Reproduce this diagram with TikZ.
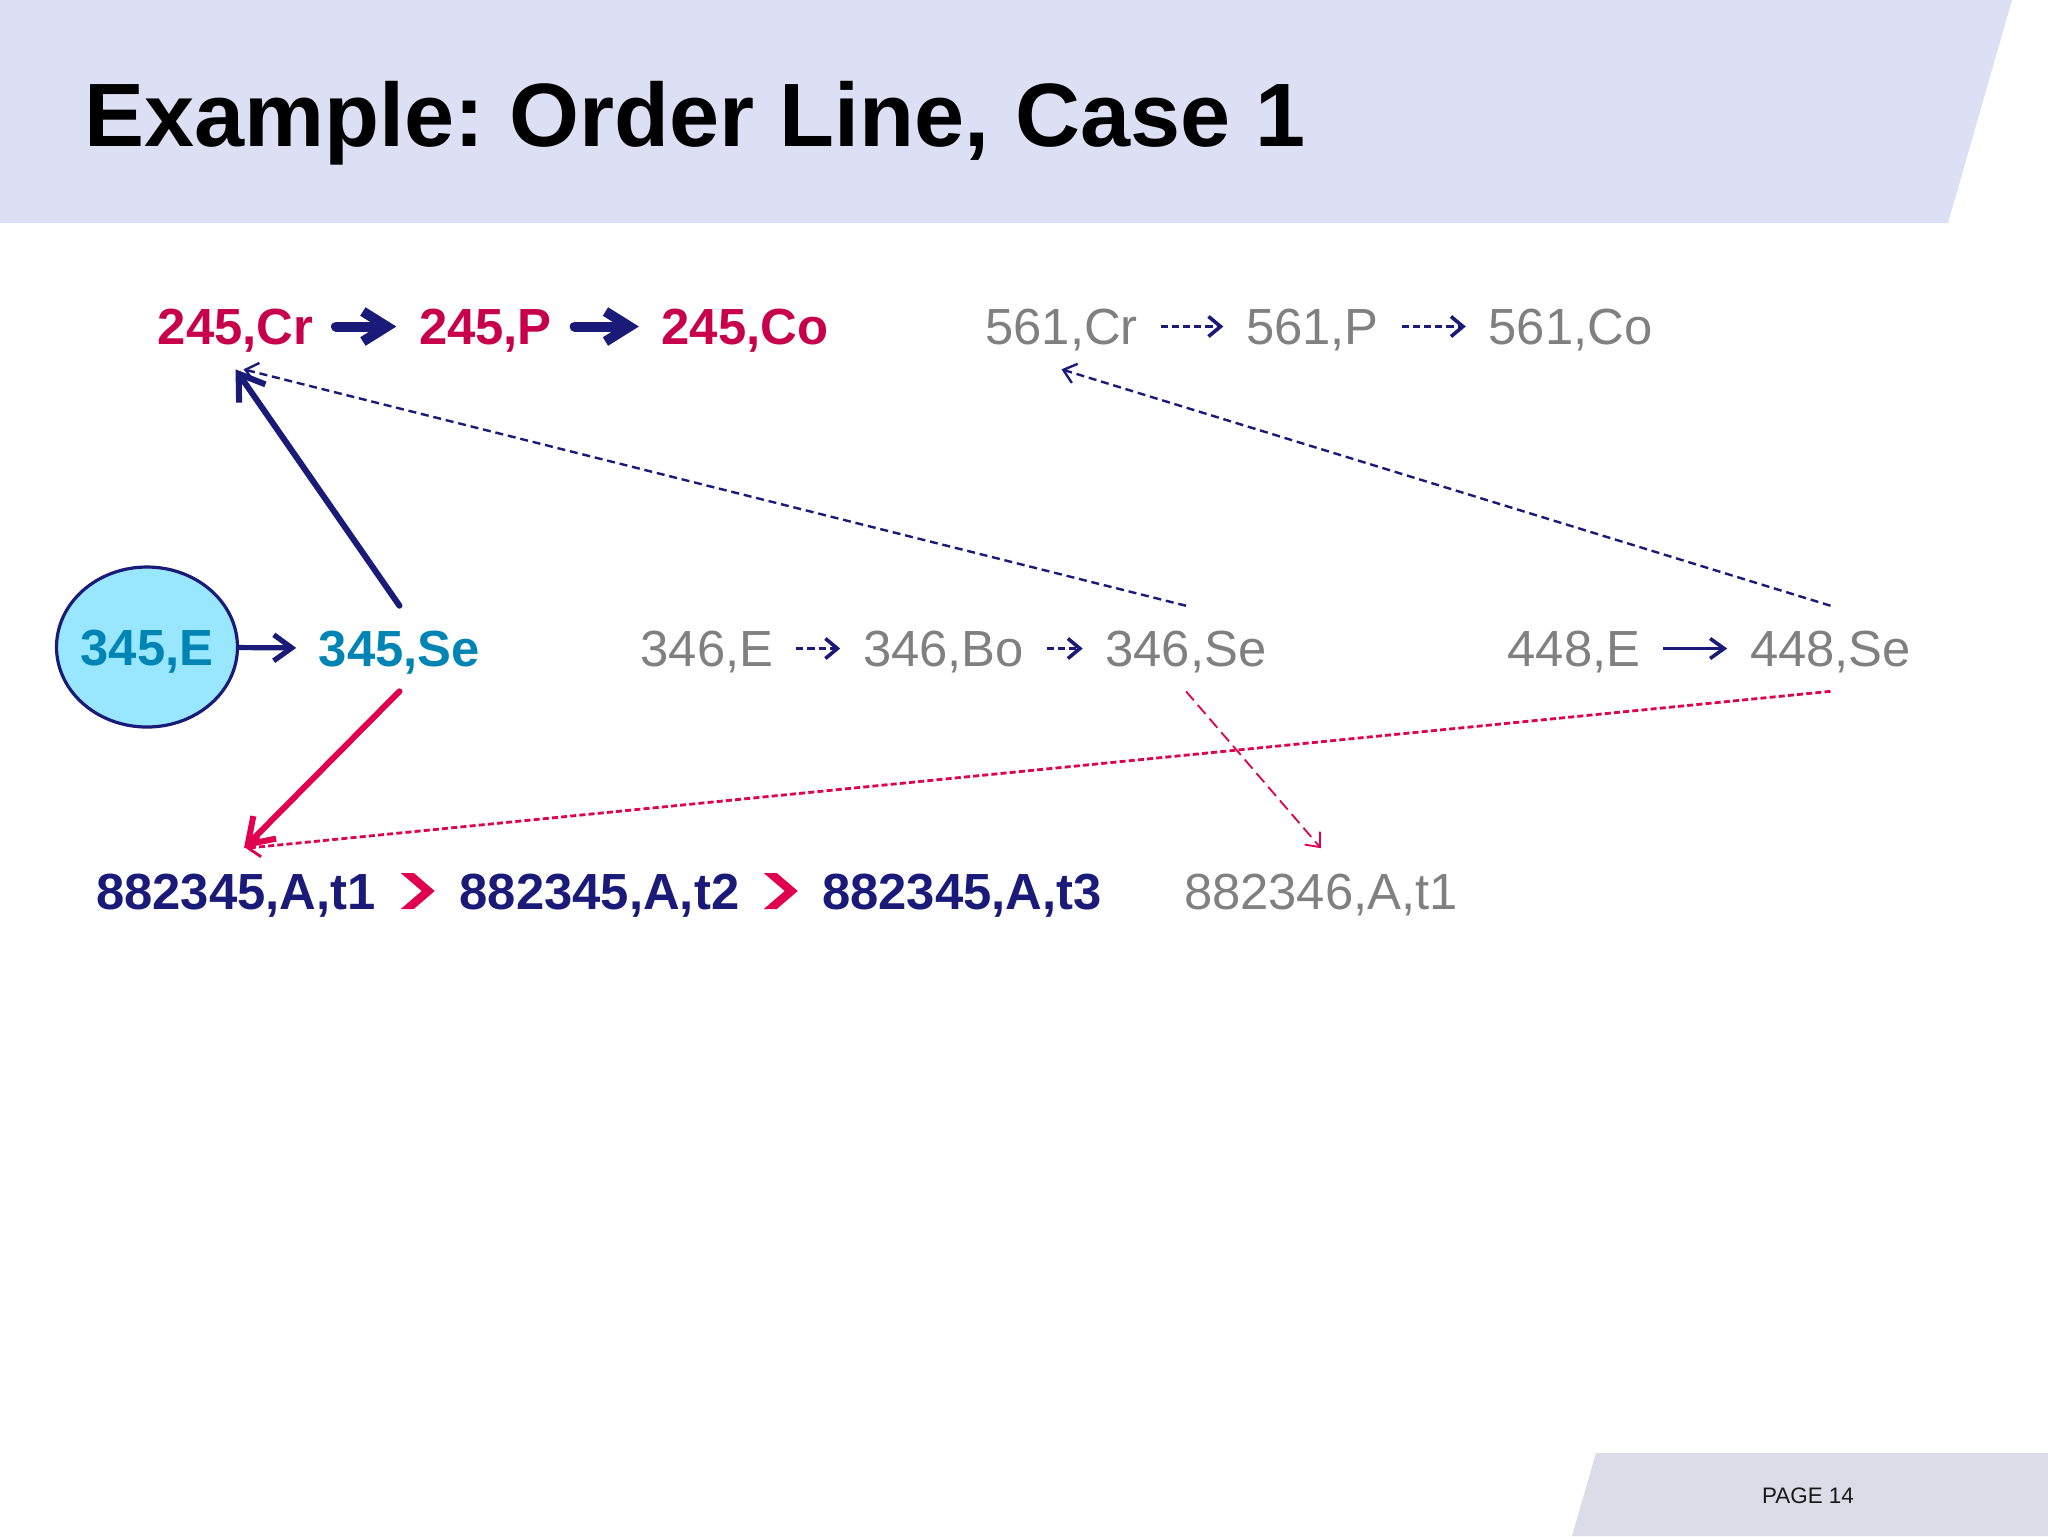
\documentclass[tikz,border=0pt]{standalone}
\usepackage{fontspec}
\setmainfont{Liberation Sans}
\frenchspacing
\usetikzlibrary{arrows.meta,shapes.geometric,decorations.markings}
\definecolor{crim}{RGB}{200,0,75}
\definecolor{navyb}{RGB}{26,26,120}
\definecolor{tealb}{RGB}{0,132,180}
\definecolor{grayt}{RGB}{128,128,128}
\definecolor{redc}{RGB}{224,0,78}
\definecolor{bandtop}{RGB}{221,224,244}
\definecolor{bandbot}{RGB}{220,220,232}
\definecolor{eggfill}{RGB}{153,230,255}

\begin{document}
\begin{tikzpicture}[x=0.25pt,y=-0.25pt]
\tikzstyle{lbl}=[font=\fontsize{12.7}{15}\selectfont, text height=9.1pt, text depth=0pt, minimum height=21pt, inner xsep=5.5pt, inner ysep=0pt]
\tikzstyle{hot}=[lbl, text=crim, font=\fontsize{12.7}{15}\selectfont\bfseries]
\tikzstyle{cool}=[lbl, text=tealb, font=\fontsize{12.7}{15}\selectfont\bfseries]
\tikzstyle{deep}=[lbl, text=navyb, font=\fontsize{12.7}{15}\selectfont\bfseries]
\tikzstyle{dim}=[lbl, text=grayt]
\tikzstyle{fat}=[navyb, line width=2.5pt, line cap=round, line join=round, -{Straight Barb[length=6pt,width=7.5pt]}]
\tikzstyle{mid}=[navyb, line width=1.3pt, -{Straight Barb[length=4.5pt,width=6.5pt]}]
\tikzstyle{slim}=[navyb, line width=0.9pt, -{Straight Barb[length=3.5pt,width=5pt]}]
\tikzstyle{dsh}=[navyb, line width=0.9pt, dash pattern=on 1.8pt off 1pt, -{Straight Barb[length=3pt,width=5pt]}]
\tikzstyle{longn}=[navyb, line width=1.5pt, line cap=round, -{Straight Barb[length=6pt,width=8pt]}]
\tikzstyle{longr}=[redc, line width=1.5pt, line cap=round, -{Straight Barb[length=6pt,width=8pt]}]
\tikzstyle{dshn}=[navyb, line width=0.6pt, dash pattern=on 2pt off 1.2pt, -{Straight Barb[length=3pt,width=5pt]}]
\tikzstyle{dshr}=[redc, line width=0.7pt, dash pattern=on 1.5pt off 0.8pt, -{Straight Barb[length=3pt,width=5pt]}]
\tikzstyle{dshr2}=[redc, line width=0.45pt, dash pattern=on 3pt off 1.5pt, -{Straight Barb[length=3pt,width=5pt]}]
\tikzstyle{chev}=[decoration={markings, mark=at position 0.5 with {\fill[redc] (-17,-18) -- (-4,-18) -- (17,0) -- (-4,18) -- (-17,18) -- (4,0) -- cycle;}}, postaction={decorate}]
\useasboundingbox (0,0) rectangle (2048,1536);
\fill[white] (0,0) rectangle (2048,1536);
\fill[bandtop] (0,0) -- (2012,0) -- (1948,223) -- (0,223) -- cycle;
\fill[bandbot] (1596,1453) -- (2048,1453) -- (2048,1536) -- (1572,1536) -- cycle;
\node[anchor=base west, inner sep=0pt, font=\fontsize{22.5}{27}\selectfont\bfseries] (ttl) at (84,146) {Example: Order Line, Case 1};
\node[inner sep=0pt, text=black!90, font=\fontsize{5.6}{7}\selectfont] (pg) at (1808,1496) {PAGE 14};
\node[hot] (cr245) at (235.5,326.5) {245,Cr};
\node[hot] (p245) at (485.5,326.5) {245,P};
\node[hot] (co245) at (745,326.5) {245,Co};
\node[dim] (cr561) at (1061.5,326.5) {561,Cr};
\node[dim] (p561) at (1312.5,326.5) {561,P};
\node[dim] (co561) at (1570.5,326.5) {561,Co};
\node[ellipse, draw=navyb, line width=0.8pt, fill=eggfill, minimum width=45pt, minimum height=40pt, inner xsep=-0.6pt, inner ysep=0pt, text height=9.1pt, text depth=0pt, text=tealb, font=\fontsize{12.7}{15}\selectfont\bfseries] (e345) at (147,647) {345,E};
\node[cool] (se345) at (399.5,648.5) {345,Se};
\node[dim] (e346) at (707,648.5) {346,E};
\node[dim] (bo346) at (943.5,648.5) {346,Bo};
\node[dim] (se346) at (1186,648.5) {346,Se};
\node[dim] (e448) at (1574,648.5) {448,E};
\node[dim] (se448) at (1830.5,648.5) {448,Se};
\node[deep] (t1a) at (236,891) {882345,A,t1};
\node[deep] (t2a) at (599.5,891) {882345,A,t2};
\node[deep] (t3a) at (962,891) {882345,A,t3};
\node[dim] (t1b) at (1321,891) {882346,A,t1};
\draw[fat] (cr245) -- (p245);
\draw[fat] (p245) -- (co245);
\draw[dsh] (cr561) -- (p561);
\draw[dsh] (p561) -- (co561);
\draw[mid] (e345) -- (se345);
\draw[dsh] (e346) -- (bo346);
\draw[dsh] (bo346) -- (se346);
\draw[slim] (e448) -- (se448);
\path[chev] (t1a) -- (t2a);
\path[chev] (t2a) -- (t3a);
\draw[longn] (se345.north) -- (cr245.south);
\draw[dshn] (se346.north) -- ([xshift=2pt]cr245.south);
\draw[dshn] (se448.north) -- (cr561.south);
\draw[longr] (se345.south) -- ([xshift=2pt]t1a.north);
\draw[dshr] (se448.south) -- ([xshift=2.5pt]t1a.north);
\draw[dshr2] (se346.south) -- (t1b.north);
\end{tikzpicture}
\end{document}
